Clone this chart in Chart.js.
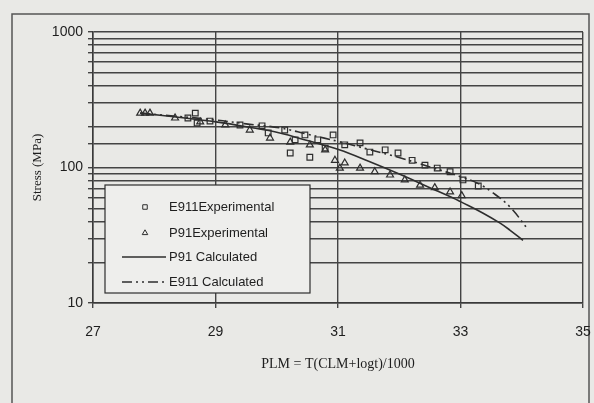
<!DOCTYPE html>
<html>
<head>
<meta charset="utf-8">
<script src="https://cdn.jsdelivr.net/npm/chart.js@4/dist/chart.umd.min.js"></script>
<style>
  html, body { margin: 0; padding: 0; background: #e9e9e6; }
  #wrap { width: 594px; height: 403px; position: relative; }
</style>
</head>
<body>
<div id="wrap"><canvas id="c" width="594" height="403"></canvas></div>
<script>
// ---- Data ----
const e911ExpX = [28.55, 28.67, 28.70, 28.91, 29.40, 29.76, 29.86, 30.13, 30.22, 30.30, 30.46, 30.54, 30.67, 30.79, 30.92, 31.11, 31.36, 31.52, 31.77, 31.98, 32.21, 32.42, 32.62, 32.83, 33.04, 33.29];
const e911ExpY = [232, 252, 213, 220, 206, 203, 180, 189, 128, 160, 174, 119, 160, 139, 174, 147, 152, 130, 135, 128, 113, 104, 99, 93, 81, 73];

const p91ExpX = [27.77, 27.85, 27.93, 28.34, 28.75, 29.16, 29.56, 29.89, 30.22, 30.54, 30.79, 30.95, 31.03, 31.11, 31.36, 31.60, 31.85, 32.09, 32.34, 32.58, 32.83, 33.02];
const p91ExpY = [252, 252, 252, 232, 217, 206, 189, 165, 154, 147, 135, 113, 99, 108, 99, 93, 88, 81, 74, 71, 66, 62];

const p91CalcX = [27.77, 28.5, 29.01, 29.5, 30.05, 30.5, 31.02, 31.5, 32.01, 32.5, 32.88, 33.0, 33.37, 33.64, 33.8, 34.02];
const p91CalcY = [252, 232, 217, 200, 180, 158, 135, 111, 89, 71, 59.6, 56, 46, 39, 34.7, 29];

const e911CalcX = [27.77, 28.4, 29.01, 29.5, 30.05, 30.5, 31.02, 31.5, 32.01, 32.5, 33.02, 33.27, 33.53, 33.81, 34.10];
const e911CalcY = [252, 238, 224, 210, 196, 176, 155, 136, 118, 101, 85, 77, 65, 51, 35];

const seriesLabels = ['E911Experimental', 'P91Experimental', 'P91 Calculated', 'E911 Calculated'];
const xTickLabels = ['27', '29', '31', '33', '35'];
const yTickLabels = ['10', '100', '1000'];
const xTitle = 'PLM = T(CLM+logt)/1000';
const yTitle = 'Stress (MPa)';

const pts = (xs, ys) => xs.map((x, i) => ({ x: x, y: ys[i] }));
const ink = '#2e2e2e';

const frame = {
  id: 'frame',
  beforeDraw(chart) {
    const ctx = chart.ctx;
    ctx.save();
    ctx.fillStyle = '#e9e9e6';
    ctx.fillRect(0, 0, chart.width, chart.height);
    ctx.strokeStyle = '#555';
    ctx.lineWidth = 1.5;
    ctx.beginPath();
    ctx.moveTo(12, 403);
    ctx.lineTo(12, 14);
    ctx.lineTo(589, 14);
    ctx.lineTo(589, 403);
    ctx.stroke();
    ctx.restore();
  }
};

const boxLegend = {
  id: 'boxLegend',
  afterDatasetsDraw(chart) {
    const ctx = chart.ctx;
    const ds = chart.data.datasets;
    const bx = 105, by = 185, bw = 205, bh = 108;
    ctx.save();
    ctx.fillStyle = '#eeeeec';
    ctx.fillRect(bx, by, bw, bh);
    ctx.strokeStyle = ink;
    ctx.lineWidth = 1.2;
    ctx.strokeRect(bx, by, bw, bh);
    const rows = [207, 233, 257, 282];
    ctx.font = '13px "Liberation Sans", Arial, sans-serif';
    ctx.textBaseline = 'middle';
    ds.forEach((d, i) => {
      const y = rows[i];
      if (d.showLine) {
        ctx.save();
        ctx.strokeStyle = d.borderColor;
        ctx.lineWidth = d.borderWidth;
        ctx.setLineDash(d.borderDash || []);
        ctx.beginPath();
        ctx.moveTo(122, y);
        ctx.lineTo(166, y);
        ctx.stroke();
        ctx.restore();
      } else {
        ctx.save();
        ctx.fillStyle = '#eeeeec';
        ctx.strokeStyle = ink;
        ctx.lineWidth = 1;
        Chart.helpers.drawPoint(ctx, {
          pointStyle: d.pointStyle, radius: 3.2, borderWidth: 1, rotation: 0
        }, 145, y);
        ctx.restore();
      }
      ctx.fillStyle = '#1e1e1e';
      ctx.fillText(d.label, 169, y);
    });
    ctx.restore();
  }
};

new Chart(document.getElementById('c'), {
  type: 'scatter',
  data: {
    datasets: [
      {
        label: seriesLabels[0], data: pts(e911ExpX, e911ExpY),
        pointStyle: 'rect', pointRadius: 4, pointBorderWidth: 1.2,
        borderColor: ink, backgroundColor: 'rgba(0,0,0,0)', showLine: false
      },
      {
        label: seriesLabels[1], data: pts(p91ExpX, p91ExpY),
        pointStyle: 'triangle', pointRadius: 4, pointBorderWidth: 1.2,
        borderColor: ink, backgroundColor: 'rgba(0,0,0,0)', showLine: false
      },
      {
        label: seriesLabels[2], data: pts(p91CalcX, p91CalcY),
        showLine: true, pointRadius: 0, borderColor: ink, borderWidth: 1.6,
        tension: 0.4, fill: false
      },
      {
        label: seriesLabels[3], data: pts(e911CalcX, e911CalcY),
        showLine: true, pointRadius: 0, borderColor: ink, borderWidth: 1.6,
        borderDash: [10, 4, 2, 4, 2, 4],
        tension: 0.4, fill: false
      }
    ]
  },
  options: {
    responsive: false,
    animation: false,
    layout: { padding: { top: 32, left: 0, right: 11, bottom: 0 } },
    plugins: { legend: { display: false }, tooltip: { enabled: false } },
    scales: {
      x: {
        type: 'linear', min: 27, max: 35,
        afterFit(s) { s.height = 100; s.paddingLeft = 0; s.paddingRight = 0; },
        afterBuildTicks(s) { s.ticks = xTickLabels.map(v => ({ value: Number(v) })); },
        ticks: {
          padding: 16, color: '#1e1e1e',
          font: { family: '"Liberation Sans", Arial, sans-serif', size: 14 },
          callback: (v) => String(v)
        },
        grid: { color: '#444', lineWidth: 1.4, tickLength: 5, tickColor: '#444' },
        border: { color: '#3a3a3a', width: 1.5 },
        title: {
          display: true, text: xTitle, color: '#1e1e1e',
          font: { family: '"Liberation Serif", "Times New Roman", serif', size: 14 },
          padding: { top: 0, bottom: 30 }
        }
      },
      y: {
        type: 'logarithmic', min: 10, max: 1000,
        afterFit(s) { s.width = 93; },
        ticks: {
          autoSkip: false, padding: 5, color: '#1e1e1e',
          font: { family: '"Liberation Sans", Arial, sans-serif', size: 14 },
          callback: (v) => yTickLabels.includes(String(v)) ? String(v) : ''
        },
        grid: { color: '#444', lineWidth: 1.4, tickLength: 5, tickColor: '#444' },
        border: { color: '#3a3a3a', width: 1.5 },
        title: {
          display: true, text: yTitle, color: '#1e1e1e',
          font: { family: '"Liberation Serif", "Times New Roman", serif', size: 13 },
          padding: { top: 30, bottom: 0 }
        }
      }
    }
  },
  plugins: [frame, boxLegend]
});
</script>
</body>
</html>
